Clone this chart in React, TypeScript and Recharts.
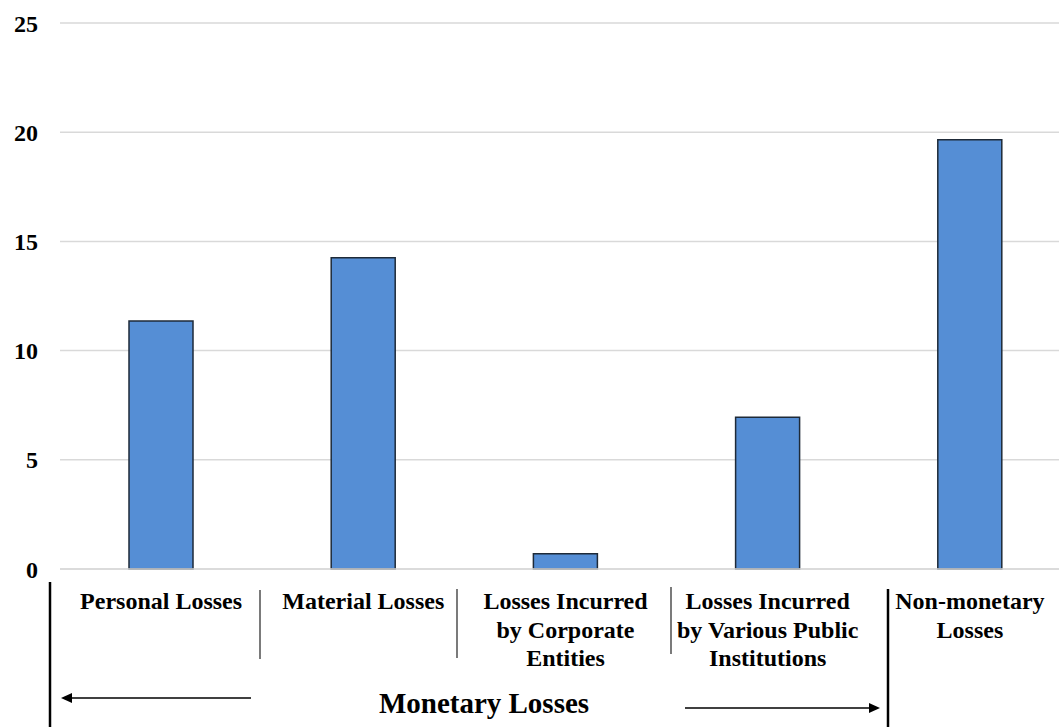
import React from "react";
import { BarChart, Bar, XAxis, YAxis, CartesianGrid } from "recharts";

const categories = [
  "Personal Losses",
  "Material Losses",
  "Losses Incurred by Corporate Entities",
  "Losses Incurred by Various Public Institutions",
  "Non-monetary Losses",
];
const categoryLabelLines = [
  ["Personal Losses"],
  ["Material Losses"],
  ["Losses Incurred", "by Corporate", "Entities"],
  ["Losses Incurred", "by Various Public", "Institutions"],
  ["Non-monetary", "Losses"],
];
const values = [11.35, 14.25, 0.7, 6.95, 19.65];
const yTicks = [0, 5, 10, 15, 20, 25];
const groupLabel = "Monetary Losses";

const data = categories.map((name, i) => ({ name, value: values[i], lines: categoryLabelLines[i] }));

const FONT = '"Liberation Serif", "Times New Roman", serif';

const CategoryTick = (props: any) => {
  const { x, y, index } = props;
  const lines = categoryLabelLines[index] || [];
  return (
    <g>
      {lines.map((ln, i) => (
        <text
          key={i}
          x={x}
          y={y + 40 + i * 28.7}
          textAnchor="middle"
          fontFamily={FONT}
          fontWeight="bold"
          fontSize={24}
          fill="#000"
        >
          {ln}
        </text>
      ))}
    </g>
  );
};

export default function App() {
  return (
    <div
      style={{
        position: "absolute",
        left: 0,
        top: 0,
        width: 1059,
        height: 727,
        overflow: "hidden",
        background: "#fff",
      }}
    >
      <BarChart
        width={1075}
        height={727}
        data={data}
        margin={{ top: 23, right: 4, left: 0, bottom: 0 }}
        barSize={64}
      >
        <CartesianGrid vertical={false} stroke="#d9d9d9" strokeWidth={1.5} />
        <XAxis
          dataKey="name"
          interval={0}
          height={158}
          tickLine={false}
          tickSize={0}
          tickMargin={0}
          axisLine={{ stroke: "#d9d9d9", strokeWidth: 1.5 }}
          tick={<CategoryTick />}
        />
        <YAxis
          width={60}
          domain={[0, 25]}
          ticks={yTicks}
          axisLine={false}
          tickLine={false}
          tickSize={0}
          tickMargin={22}
          tick={{ fontFamily: FONT, fontWeight: "bold", fontSize: 24, fill: "#000" }}
        />
        <Bar dataKey="value" fill="#558ED5" stroke="#1e2a38" strokeWidth={1.5} isAnimationActive={false} />
      </BarChart>
      <svg
        width={1059}
        height={727}
        style={{ position: "absolute", left: 0, top: 0, pointerEvents: "none" }}
      >
        <line x1={50} y1={582} x2={50} y2={727} stroke="#000" strokeWidth={2.5} />
        <line x1={888} y1={589} x2={888} y2={727} stroke="#000" strokeWidth={2.5} />
        <line x1={260} y1={590} x2={260} y2={659} stroke="#333" strokeWidth={1.3} />
        <line x1={457} y1={589} x2={457} y2={658} stroke="#333" strokeWidth={1.3} />
        <line x1={671} y1={587} x2={671} y2={654} stroke="#333" strokeWidth={1.3} />
        <line x1={70} y1={698} x2={251} y2={698} stroke="#000" strokeWidth={1.3} />
        <polygon points="61,698 72,693 72,703" fill="#000" />
        <line x1={685} y1={708} x2={870} y2={708} stroke="#000" strokeWidth={1.3} />
        <polygon points="880,708 869,703 869,713" fill="#000" />
        <text
          x={484}
          y={713}
          textAnchor="middle"
          fontFamily={FONT}
          fontWeight="bold"
          fontSize={29}
          fill="#000"
        >
          {groupLabel}
        </text>
      </svg>
    </div>
  );
}
